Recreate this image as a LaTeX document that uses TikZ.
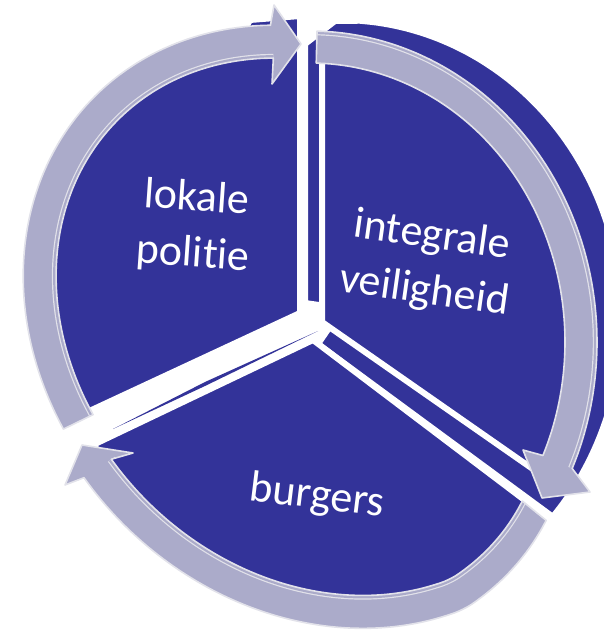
\documentclass[tikz,border=0pt]{standalone}
\usepackage{fontspec}
\setmainfont{Carlito}[Ligatures=NoCommon]
\definecolor{pieblue}{RGB}{51,51,153}
\definecolor{bandfill}{RGB}{171,171,202}
\definecolor{bandedge}{RGB}{226,226,234}

% arrow bands round the pie (pixel grid, y down)
\newcommand{\bandL}{plot[domain=109:220, samples=40, smooth, variable=\t]
    ({318+0.7071*(316*cos(\t)-272*sin(\t))}, {320+0.7071*(316*cos(\t)+272*sin(\t))})
    -- (274,5) -- (301,44) -- (272,84)
    -- plot[domain=220:109, samples=40, smooth, variable=\t]
    ({318+0.7071*(283*cos(\t)-239*sin(\t))}, {320+0.7071*(283*cos(\t)+239*sin(\t))})
    -- cycle}
\newcommand{\rimL}{plot[domain=220:109, samples=40, smooth, variable=\t]
    ({318+0.7071*(283*cos(\t)-239*sin(\t))}, {320+0.7071*(283*cos(\t)+239*sin(\t))})}
\newcommand{\bandR}{plot[domain=88.6:-24, samples=40, smooth, variable=\t]
    ({310+287*cos(\t)}, {342-311*sin(\t)})
    -- (590,492) -- (542,498) -- (523,450)
    -- plot[domain=-24:88.6, samples=40, smooth, variable=\t]
    ({310+255*cos(\t)}, {342-279*sin(\t)})
    -- cycle}
\newcommand{\rimR}{plot[domain=88.6:-24, samples=40, smooth, variable=\t]
    ({310+287*cos(\t)}, {342-311*sin(\t)})}
\newcommand{\bandB}{plot[domain=-6:101, samples=40, smooth, variable=\t]
    ({318+(1-0.07*max(0,(20-\t)/26))*0.7071*(320*cos(\t)-275*sin(\t))},
     {330+(1-0.07*max(0,(20-\t)/26))*0.7071*(320*cos(\t)+275*sin(\t))})
    -- (65,485) -- (82,445) -- (133,453)
    -- plot[domain=101:-6, samples=40, smooth, variable=\t]
    ({318+(1-0.07*max(0,(20-\t)/26))*0.7071*(287*cos(\t)-242*sin(\t))},
     {330+(1-0.07*max(0,(20-\t)/26))*0.7071*(287*cos(\t)+242*sin(\t))})
    -- cycle}
\newcommand{\rimB}{plot[domain=101:-6, samples=40, smooth, variable=\t]
    ({318+(1-0.07*max(0,(20-\t)/26))*0.7071*(287*cos(\t)-242*sin(\t))},
     {330+(1-0.07*max(0,(20-\t)/26))*0.7071*(287*cos(\t)+242*sin(\t))})}

\begin{document}
\begin{tikzpicture}[
    x=0.5pt, y=-0.5pt,
    piece/.style={fill=pieblue, draw=white, line width=3pt, line join=round},
    band/.style={fill=bandfill},
    bandline/.style={draw=bandedge, line width=0.8pt, line join=round},
    rim/.style={draw=bandedge, line width=0.6pt, double=bandfill,
        double distance=3pt},
    slicetext/.style={text=white, align=center,
        font=\fontsize{22}{28}\selectfont},
    ]

    \useasboundingbox (0,0) rectangle (603,635);

    % side of the integrale slice
    \filldraw[piece] (319,305) -- (305,303) -- (305,44) -- (335,21)
        -- plot[domain=86:-41, samples=40, smooth, variable=\t]
        ({340+282*cos(\t)}, {320-300*sin(\t)})
        -- (318,344) -- (331,325) -- cycle;

    % the three slices
    \filldraw[piece] (322,322) -- (322,45)
        -- plot[domain=86:-28, samples=40, smooth, variable=\t]
        ({310+271*cos(\t)}, {342-295*sin(\t)}) -- cycle;
    \filldraw[piece] (300,313) -- (300,16) -- (250,20)
        -- plot[domain=213:110, samples=40, smooth, variable=\t]
        ({318+0.7071*(302*cos(\t)-258*sin(\t))},
         {320+0.7071*(302*cos(\t)+258*sin(\t))}) -- cycle;
    \filldraw[piece] (313,340) -- (95,444)
        -- plot[domain=100:-3, samples=40, smooth, variable=\t]
        ({318+(1-0.07*max(0,(20-\t)/26))*0.7071*(304*cos(\t)-259*sin(\t))},
         {330+(1-0.07*max(0,(20-\t)/26))*0.7071*(304*cos(\t)+259*sin(\t))})
        -- (535,508) -- cycle;
    \fill[pieblue] (113,429) -- (205,382) -- (318,331) -- (205,386) -- cycle;

    \node[slicetext, rotate=-4] (lokale) at (195,227) {lokale\\politie};
    \node[slicetext, rotate=-8] (integrale) at (428,264) {integrale\\veiligheid};
    \node[slicetext, rotate=-7] (burgers) at (317,497) {burgers};

    % arrows
    \fill[band] \bandL;
    \begin{scope}
        \clip \bandL;
        \draw[rim] \rimL;
    \end{scope}
    \draw[bandline] \bandL;

    \fill[band] \bandR;
    \begin{scope}
        \clip \bandR;
        \draw[rim] \rimR;
    \end{scope}
    \draw[bandline] \bandR;

    \fill[band] \bandB;
    \begin{scope}
        \clip \bandB;
        \draw[rim] \rimB;
    \end{scope}
    \draw[bandline] \bandB;
\end{tikzpicture}
\end{document}
